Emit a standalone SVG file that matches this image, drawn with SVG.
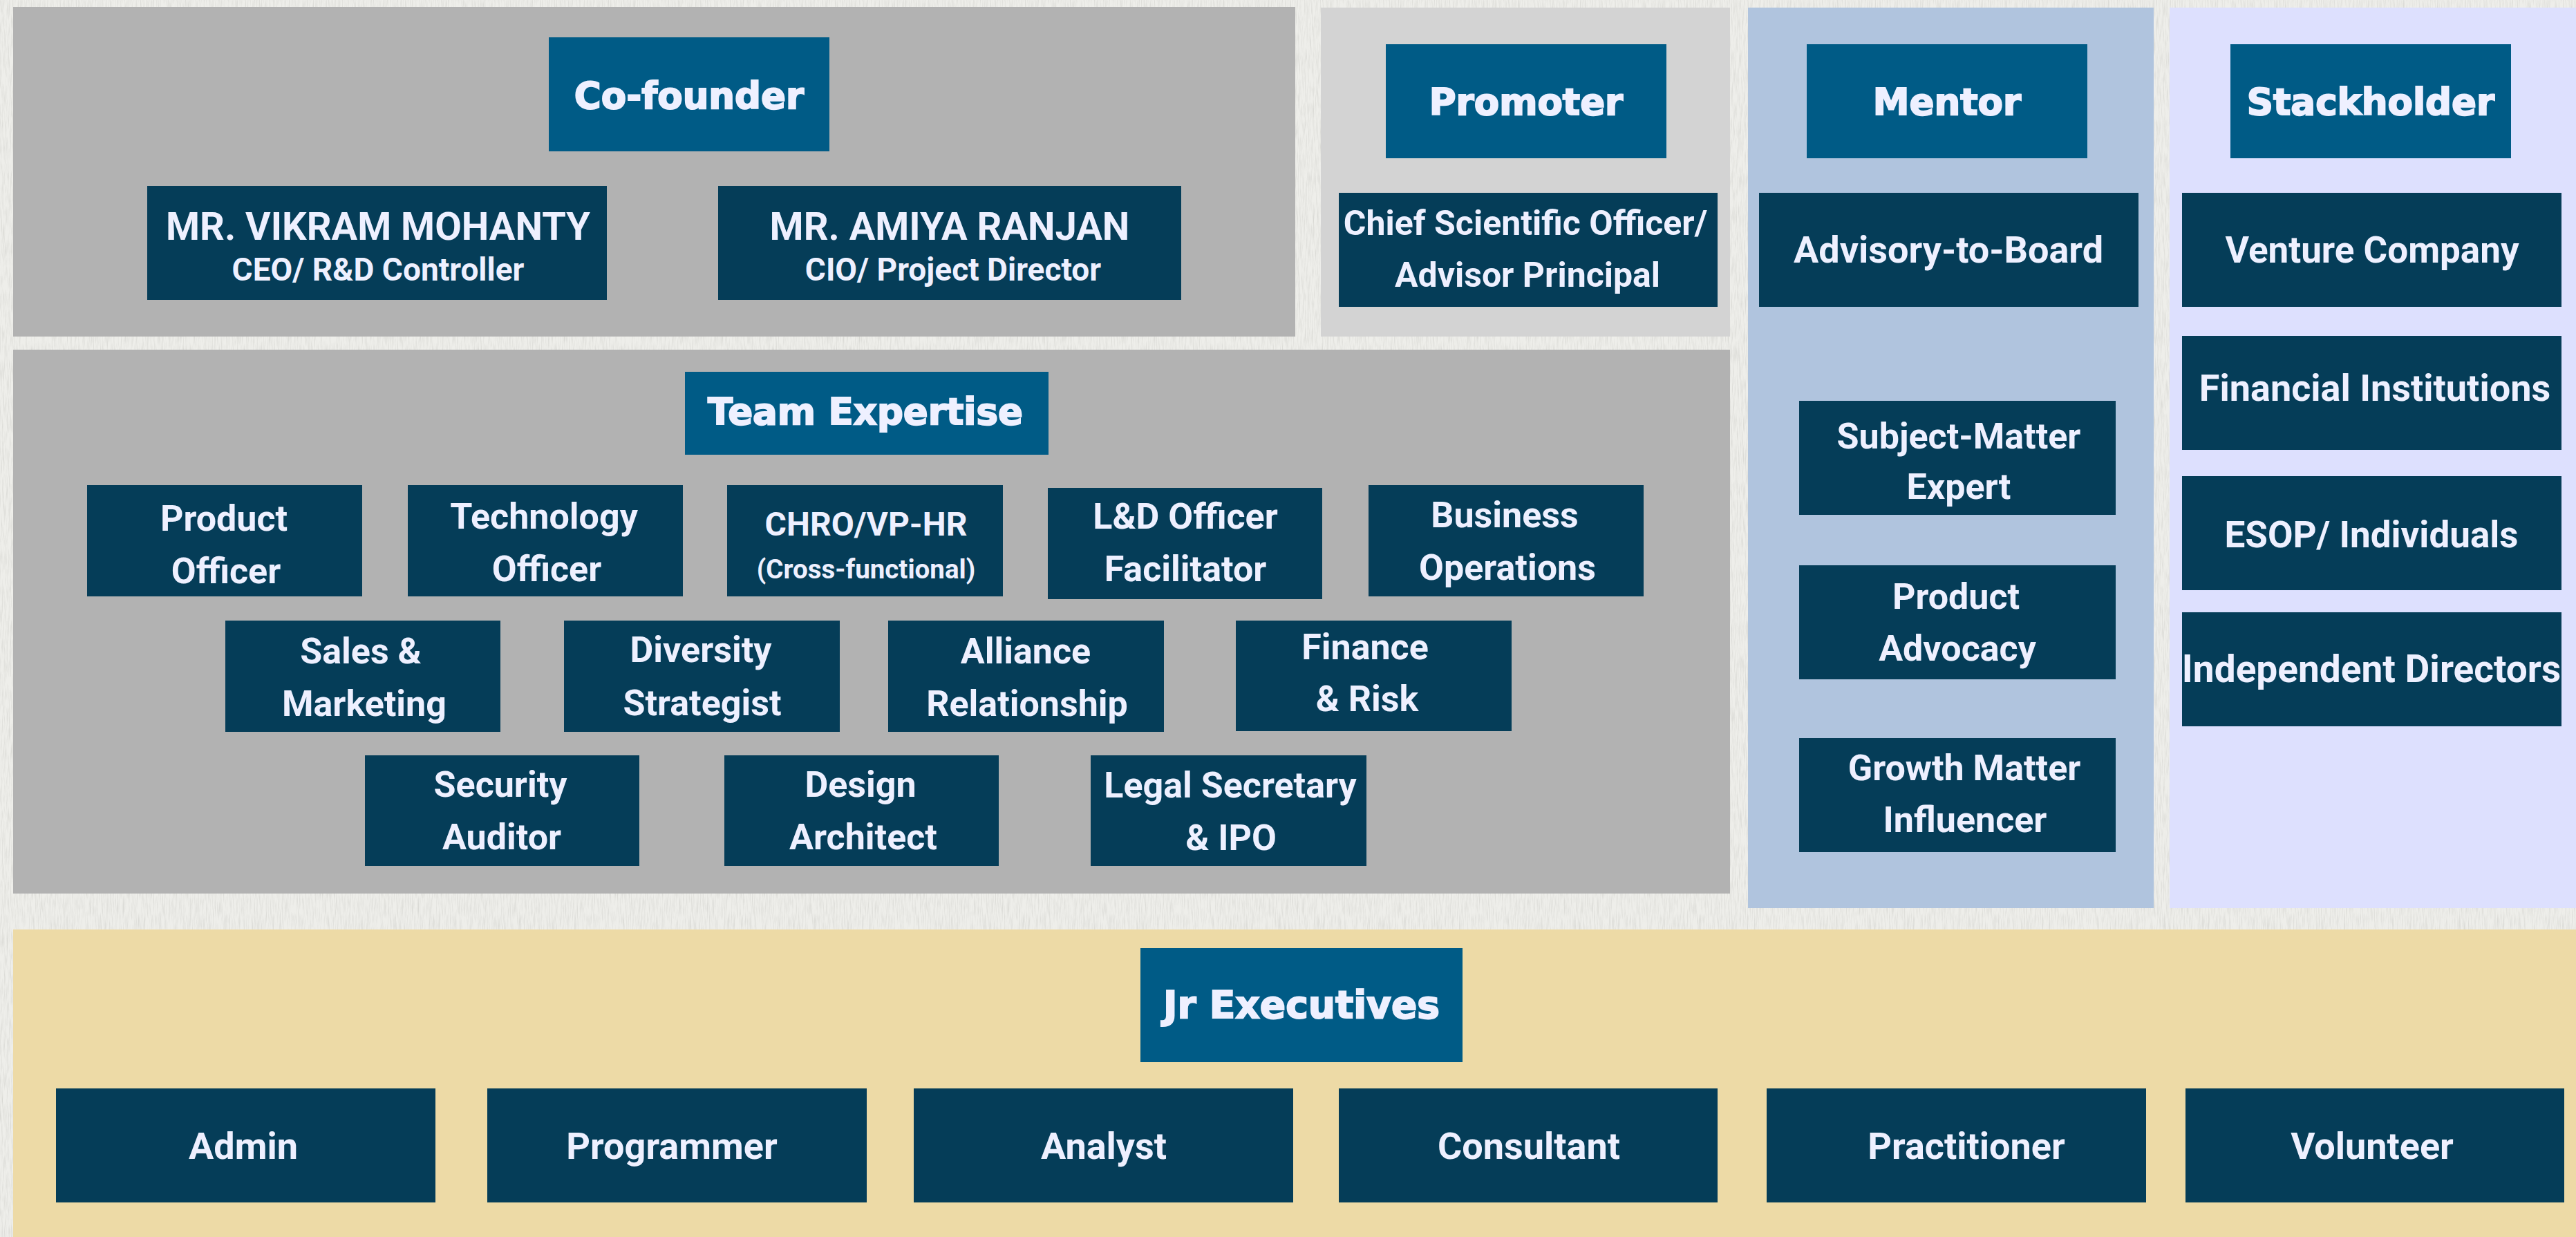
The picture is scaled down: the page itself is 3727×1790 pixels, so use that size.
<svg xmlns="http://www.w3.org/2000/svg" width="3727" height="1790" viewBox="0 0 3727 1790">
<defs>
<style>
.hdr{fill:#005b86}
.box{fill:#053d58}
.ht{font-family:"DejaVu Sans",sans-serif;font-weight:700;font-size:53px;fill:#eef0ff;stroke:#eef0ff;stroke-width:2px;text-anchor:middle}
.bt{font-family:Roboto,"Liberation Sans",sans-serif;font-weight:700;font-size:51px;fill:#eef0ff;text-anchor:middle}
.s55{font-size:55px}
.s54{font-size:54px}
.s53{font-size:53px}
.s52{font-size:52px}
.s50{font-size:50px}
.s56{font-size:56px}
.s46{font-size:46px}
.s38{font-size:38.5px}
.s48{font-size:48px}
</style>
<filter id="paper" x="0" y="0" width="100%" height="100%">
<feTurbulence type="fractalNoise" baseFrequency="0.6 0.04" numOctaves="3" seed="7"/>
<feColorMatrix type="matrix" values="0 0 0 0 0.55 0 0 0 0 0.55 0 0 0 0 0.52 1.0 0 0 0 -0.42"/>
</filter>
</defs>
<rect x="0" y="0" width="3727" height="1790" fill="#eeeeea"/>
<rect x="0" y="0" width="3727" height="1790" filter="url(#paper)"/>

<g id="panels">
<rect x="19" y="10" width="1855" height="477" fill="#b2b2b2"/>
<rect x="1911" y="11" width="592" height="476" fill="#d3d3d3"/>
<rect x="2529" y="11" width="587" height="1303" fill="#b0c4de"/>
<rect x="3139" y="11" width="588" height="1303" fill="#dde0fe"/>
<rect x="19" y="506" width="2484" height="787" fill="#b2b2b2"/>
<rect x="19" y="1345" width="3708" height="445" fill="#eddaa6"/>
</g>

<g id="connectors"></g>

<g id="cofounder"><rect class="hdr" x="794" y="54" width="406" height="165"/><text class="ht" x="997" y="157">Co-founder</text></g>
<g id="vikram"><rect class="box" x="213" y="269" width="665" height="165"/><text class="bt s56" x="547" y="347">MR. VIKRAM MOHANTY</text><text class="bt s46" x="547" y="406">CEO/ R&amp;D Controller</text></g>
<g id="amiya"><rect class="box" x="1039" y="269" width="670" height="165"/><text class="bt s56" x="1374" y="347">MR. AMIYA RANJAN</text><text class="bt s46" x="1379" y="406">CIO/ Project Director</text></g>

<g id="promoter"><rect class="hdr" x="2005" y="64" width="406" height="165"/><text class="ht" x="2208" y="166">Promoter</text></g>
<g id="chief-scientific"><rect class="box" x="1937" y="279" width="548" height="165"/><text class="bt s50" x="2207" y="340">Chief Scientific Officer/</text><text class="bt s50" x="2210" y="415">Advisor Principal</text></g>

<g id="mentor"><rect class="hdr" x="2614" y="64" width="406" height="165"/><text class="ht" x="2817" y="166">Mentor</text></g>
<g id="advisory"><rect class="box" x="2545" y="279" width="549" height="165"/><text class="bt s54" x="2819" y="380">Advisory-to-Board</text></g>
<g id="subject-matter"><rect class="box" x="2603" y="580" width="458" height="165"/><text class="bt s52" x="2834" y="649">Subject-Matter</text><text class="bt s52" x="2834" y="722">Expert</text></g>
<g id="product-advocacy"><rect class="box" x="2603" y="818" width="458" height="165"/><text class="bt s52" x="2830" y="881">Product</text><text class="bt s52" x="2832" y="956">Advocacy</text></g>
<g id="growth"><rect class="box" x="2603" y="1068" width="458" height="165"/><text class="bt s52" x="2842" y="1129">Growth Matter</text><text class="bt s52" x="2843" y="1204">Influencer</text></g>

<g id="stackholder"><rect class="hdr" x="3227" y="64" width="406" height="165"/><text class="ht" x="3430" y="166">Stackholder</text></g>
<g id="venture"><rect class="box" x="3157" y="279" width="549" height="165"/><text class="bt s53" x="3432" y="380">Venture Company</text></g>
<g id="financial"><rect class="box" x="3157" y="486" width="549" height="165"/><text class="bt s54" x="3436" y="580">Financial Institutions</text></g>
<g id="esop"><rect class="box" x="3157" y="689" width="549" height="165"/><text class="bt s53" x="3431" y="792">ESOP/ Individuals</text></g>
<g id="independent"><rect class="box" x="3157" y="886" width="549" height="165"/><text class="bt s55" x="3431" y="987">Independent Directors</text></g>

<g id="team-expertise"><rect class="hdr" x="991" y="538" width="526" height="120"/><text class="ht" x="1252" y="614">Team Expertise</text></g>
<g id="product-officer"><rect class="box" x="126" y="702" width="398" height="161"/><text class="bt s52" x="324" y="768">Product</text><text class="bt s52" x="327" y="844">Officer</text></g>
<g id="technology-officer"><rect class="box" x="590" y="702" width="398" height="161"/><text class="bt s52" x="787" y="765">Technology</text><text class="bt s52" x="791" y="841">Officer</text></g>
<g id="chro"><rect class="box" x="1052" y="702" width="399" height="161"/><text class="bt s48" x="1253" y="775">CHRO/VP-HR</text><text class="bt s38" x="1253" y="837">(Cross-functional)</text></g>
<g id="ld-officer"><rect class="box" x="1516" y="706" width="397" height="161"/><text class="bt s52" x="1715" y="765">L&amp;D Officer</text><text class="bt s52" x="1715" y="841">Facilitator</text></g>
<g id="business-operations"><rect class="box" x="1980" y="702" width="398" height="161"/><text class="bt s52" x="2177" y="763">Business</text><text class="bt s52" x="2181" y="839">Operations</text></g>
<g id="sales-marketing"><rect class="box" x="326" y="898" width="398" height="161"/><text class="bt s52" x="522" y="960">Sales &amp;</text><text class="bt s52" x="527" y="1036">Marketing</text></g>
<g id="diversity"><rect class="box" x="816" y="898" width="399" height="161"/><text class="bt s52" x="1014" y="958">Diversity</text><text class="bt s52" x="1016" y="1035">Strategist</text></g>
<g id="alliance"><rect class="box" x="1285" y="898" width="399" height="161"/><text class="bt s52" x="1484" y="960">Alliance</text><text class="bt s52" x="1486" y="1036">Relationship</text></g>
<g id="finance-risk"><rect class="box" x="1788" y="898" width="399" height="160"/><text class="bt s52" x="1975" y="954">Finance</text><text class="bt s52" x="1978" y="1029">&amp; Risk</text></g>
<g id="security-auditor"><rect class="box" x="528" y="1093" width="397" height="160"/><text class="bt s52" x="724" y="1153">Security</text><text class="bt s52" x="726" y="1229">Auditor</text></g>
<g id="design-architect"><rect class="box" x="1048" y="1093" width="397" height="160"/><text class="bt s52" x="1245" y="1153">Design</text><text class="bt s52" x="1249" y="1229">Architect</text></g>
<g id="legal-secretary"><rect class="box" x="1578" y="1093" width="399" height="160"/><text class="bt s52" x="1780" y="1154">Legal Secretary</text><text class="bt s52" x="1781" y="1230">&amp; IPO</text></g>

<g id="jr-executives"><rect class="hdr" x="1650" y="1372" width="466" height="165"/><text class="ht" x="1883" y="1473" style="font-size:55px">Jr Executives</text></g>
<g id="admin"><rect class="box" x="81" y="1575" width="549" height="165"/><text class="bt s54" x="352" y="1677">Admin</text></g>
<g id="programmer"><rect class="box" x="705" y="1575" width="549" height="165"/><text class="bt s54" x="972" y="1677">Programmer</text></g>
<g id="analyst"><rect class="box" x="1322" y="1575" width="549" height="165"/><text class="bt s54" x="1597" y="1677">Analyst</text></g>
<g id="consultant"><rect class="box" x="1937" y="1575" width="548" height="165"/><text class="bt s54" x="2212" y="1677">Consultant</text></g>
<g id="practitioner"><rect class="box" x="2556" y="1575" width="549" height="165"/><text class="bt s54" x="2845" y="1677">Practitioner</text></g>
<g id="volunteer"><rect class="box" x="3162" y="1575" width="548" height="165"/><text class="bt s54" x="3432" y="1677">Volunteer</text></g>
</svg>
